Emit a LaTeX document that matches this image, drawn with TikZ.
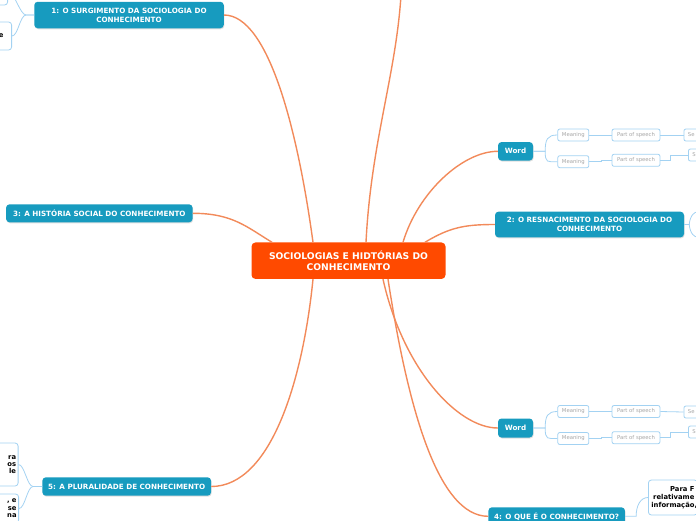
\documentclass[tikz,border=0pt]{standalone}
\usepackage{fontspec}
\setmainfont{DejaVu Sans}
\usetikzlibrary{shadows}

\definecolor{rootred}{HTML}{FF4A00}
\definecolor{topicteal}{HTML}{179BBF}
\definecolor{branchorange}{HTML}{F28A5A}
\definecolor{twigblue}{HTML}{A3D2F2}
\definecolor{subgray}{HTML}{A6A6A6}

\begin{document}
\begin{tikzpicture}[
    x=1pt, y=-1pt,
    % estilos de los nodos del mapa
    root/.style={fill=rootred, text=white, font=\fontsize{9.2}{11}\selectfont\bfseries,
        rounded corners=4pt, align=center, inner sep=0pt},
    topic/.style={fill=topicteal, text=white, font=\fontsize{7.2}{9}\selectfont\bfseries,
        rounded corners=3.5pt, align=center, inner sep=0pt,
        drop shadow={opacity=0.25, shadow xshift=0.6pt, shadow yshift=-1pt}},
    sub/.style={draw=twigblue, fill=white, text=subgray, font=\fontsize{5.3}{6}\selectfont,
        rounded corners=2pt, inner sep=0pt, line width=0.8pt, minimum height=12pt},
    leaf/.style={draw=twigblue, fill=white, font=\fontsize{6.8}{8}\selectfont\bfseries,
        rounded corners=3pt, line width=0.8pt, align=right, inner xsep=6pt},
    branch/.style={draw=branchorange, line width=1.4pt},
    twig/.style={draw=twigblue, line width=0.8pt}
]
    \useasboundingbox (0,0) rectangle (696,520);

    % --- nodo central ---
    \node[root, minimum width=194pt, minimum height=36.5pt] (root) at (348.5,260.7)
        {SOCIOLOGIAS E HIDTÓRIAS DO\\CONHECIMENTO};

    % --- temas ---
    \node[topic, minimum width=189.5pt, minimum height=26.5pt] (n1) at (129,15)
        {1: O SURGIMENTO DA SOCIOLOGIA DO\\CONHECIMENTO};
    \node[topic, minimum width=189pt, minimum height=25.7pt] (n2) at (589.5,224.5)
        {2: O RESNACIMENTO DA SOCIOLOGIA DO\\CONHECIMENTO};
    \node[topic, minimum width=186.5pt, minimum height=18pt] (n3) at (99.3,213.3)
        {3: A HISTÓRIA SOCIAL DO CONHECIMENTO};
    \node[topic, minimum width=136.5pt, minimum height=18pt] (n4) at (556.7,516.3)
        {4: O QUE É O CONHECIMENTO?};
    \node[topic, minimum width=168.7pt, minimum height=18.4pt] (n5) at (126.7,486.5)
        {5: A PLURALIDADE DE CONHECIMENTO};
    \node[topic, minimum width=35pt, minimum height=18.5pt] (w1) at (515.5,151.3) {Word};
    \node[topic, minimum width=35pt, minimum height=19pt] (w2) at (515.5,428) {Word};

    % --- subtemas de las palabras ---
    \node[sub, minimum width=31pt] (m1) at (573.3,135) {Meaning};
    \node[sub, minimum width=31pt] (m2) at (573.3,161.7) {Meaning};
    \node[sub, minimum width=48pt] (p1) at (636,135) {Part of speech};
    \node[sub, minimum width=48pt] (p2) at (636,160.3) {Part of speech};
    \node[sub, anchor=west, text width=36pt, align=left, inner xsep=4pt] (s1) at (683.5,135) {Se};
    \node[sub, anchor=west, text width=36pt, align=left, inner xsep=4pt] (s2) at (688,155) {S};

    \node[sub, minimum width=31pt] (m3) at (573.3,411.5) {Meaning};
    \node[sub, minimum width=31pt] (m4) at (573.3,438.5) {Meaning};
    \node[sub, minimum width=48pt] (p3) at (636,411.5) {Part of speech};
    \node[sub, minimum width=48pt] (p4) at (636,437.7) {Part of speech};
    \node[sub, anchor=west, text width=36pt, align=left, inner xsep=4pt] (s3) at (683.5,412) {Se};
    \node[sub, anchor=west, text width=36pt, align=left, inner xsep=4pt] (s4) at (688,432) {S};

    % --- hojas cortadas en los bordes ---
    \node[leaf, anchor=east, minimum width=40pt, minimum height=28pt] (l1a) at (8,-9) {};
    \node[leaf, anchor=east, minimum width=40pt, minimum height=28pt, text width=30pt,
        inner xsep=8pt] (l1b) at (12,36) {e};
    \node[leaf, anchor=east, minimum height=43pt, text width=30pt, inner xsep=2pt,
        font=\fontsize{6.8}{7}\selectfont\bfseries] (l5a) at (18.5,464.5) {ra\\os\\le};
    \node[leaf, anchor=east, minimum height=29pt, text width=30pt, inner xsep=2pt,
        font=\fontsize{6.8}{7.5}\selectfont\bfseries] (l5b) at (19,508.5) {, e\\se\\na};
    \node[leaf, anchor=west, minimum height=35pt, text width=43pt, inner xsep=3pt,
        align=right] (l4a) at (648,497.5) {Para F\\relativame\\informação,};

    \coordinate (top) at (401,-5);
    \coordinate (n2up) at (697,212);
    \coordinate (n2down) at (697,237);

    % --- ramas naranjas ---
    \draw[branch] ([xshift=-35.5pt]root.north) .. controls +(-15,-110) and +(45,0) .. (n1.east);
    \draw[branch] ([xshift=17.5pt]root.north) .. controls +(5,-100) and +(-5,80) .. (top);
    \draw[branch] ([xshift=54.5pt]root.north) .. controls +(15,-50) and +(-35,0) .. (w1.west);
    \draw[branch] ([xshift=76.5pt]root.north) .. controls +(25,-15) and +(-30,0) .. (n2.west);
    \draw[branch] ([xshift=-76.5pt]root.north) .. controls +(-25,-15) and +(40,0) .. (n3.east);
    \draw[branch] ([xshift=-35.5pt]root.south) .. controls +(-10,100) and +(60,0) .. (n5.east);
    \draw[branch] ([xshift=34.5pt]root.south) .. controls +(20,90) and +(-40,0) .. (w2.west);
    \draw[branch] ([xshift=39.5pt]root.south) .. controls +(20,130) and +(-50,0) .. (n4.west);

    % --- ramas azules ---
    \draw[twig] (w1.east) -- ++(12,0) .. controls +(0,-12) and +(-10,0) .. (m1.west);
    \draw[twig] (w1.east) -- ++(12,0) .. controls +(0,12) and +(-10,0) .. (m2.west);
    \draw[twig] (m1.east) -- (p1.west);
    \draw[twig] (m2.east) -- ++(12,0) |- (p2.west);
    \draw[twig] (p1.east) -- (s1.west);
    \draw[twig] (p2.east) -- ++(10,0) |- (s2.west);

    \draw[twig] (w2.east) -- ++(12,0) .. controls +(0,-12) and +(-10,0) .. (m3.west);
    \draw[twig] (w2.east) -- ++(12,0) .. controls +(0,12) and +(-10,0) .. (m4.west);
    \draw[twig] (m3.east) -- (p3.west);
    \draw[twig] (m4.east) -- ++(12,0) |- (p4.west);
    \draw[twig] (p3.east) -- (s3.west);
    \draw[twig] (p4.east) -- ++(10,0) |- (s4.west);

    \draw[twig] (n1.west) -- ++(-8,0) .. controls +(-6,0) and +(6,0) .. (l1a.east);
    \draw[twig] (n1.west) -- ++(-8,0) .. controls +(-6,0) and +(6,0) .. (l1b.east);
    \draw[twig] (n5.west) -- ++(-9,0) .. controls +(-6,0) and +(6,0) .. (l5a.east);
    \draw[twig] (n5.west) -- ++(-9,0) .. controls +(-6,0) and +(6,0) .. (l5b.east);
    \draw[twig] (n4.east) -- ++(11,0) .. controls +(0,-10) and +(-8,0) .. (l4a.west);
    \draw[twig] (n2.east) -- ++(5,0) .. controls +(1,-10) and +(-2,0) .. (n2up);
    \draw[twig] (n2.east) -- ++(5,0) .. controls +(1,10) and +(-2,0) .. (n2down);
\end{tikzpicture}
\end{document}
